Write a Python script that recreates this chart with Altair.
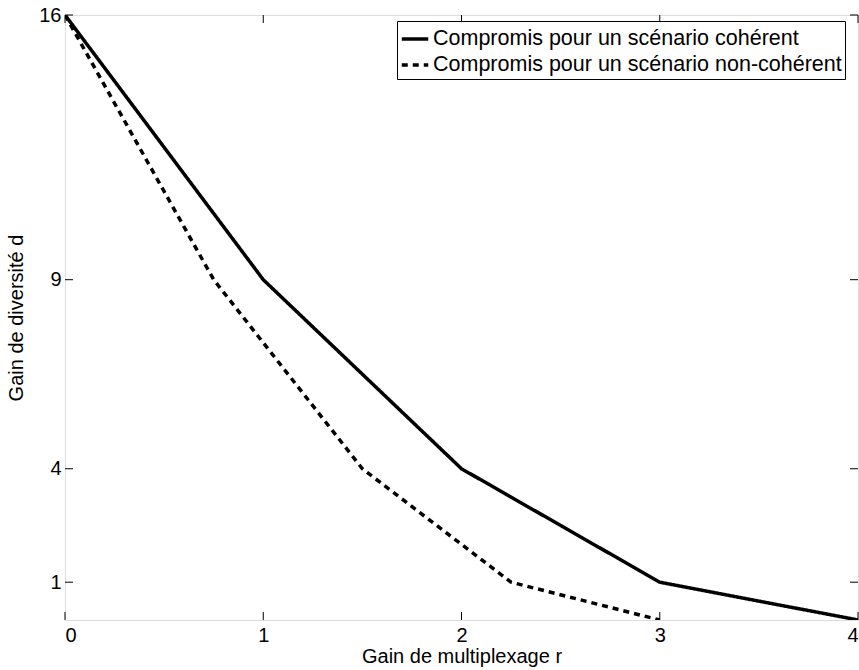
import altair as alt
import pandas as pd

# Data
r_coherent = [0, 1, 2, 3, 4]
d_coherent = [16, 9, 4, 1, 0]
r_noncoherent = [0, 0.75, 1.5, 2.25, 3]
d_noncoherent = [16, 9, 4, 1, 0]
series_names = ["Compromis pour un scénario cohérent",
                "Compromis pour un scénario non-cohérent"]
x_ticks = [0, 1, 2, 3, 4]
y_ticks = [1, 4, 9, 16]

W, H = 793, 605
FONT = "Liberation Sans"

df = pd.concat([
    pd.DataFrame({"r": r_coherent, "d": d_coherent, "s": series_names[0], "o": range(len(r_coherent))}),
    pd.DataFrame({"r": r_noncoherent, "d": d_noncoherent, "s": series_names[1], "o": range(len(r_noncoherent))}),
])

xs = alt.Scale(domain=[0, 4], nice=False)
ys = alt.Scale(domain=[0, 16], nice=False)

lines = alt.Chart(df).mark_line(color="black", strokeWidth=3.5, strokeCap="butt", clip=True).encode(
    x=alt.X("r:Q", scale=xs, title="Gain de multiplexage r",
            axis=alt.Axis(values=x_ticks, ticks=False, domain=False, grid=False,
                          labelFontSize=20, labelFont=FONT, labelColor="black", labelPadding=5,
                          titleFontSize=20, titleFont=FONT, titleFontWeight="normal",
                          titleColor="black", titlePadding=1, format="d")),
    y=alt.Y("d:Q", scale=ys, title="Gain de diversité d",
            axis=alt.Axis(values=y_ticks, ticks=False, domain=False, grid=False,
                          labelFontSize=20, labelFont=FONT, labelColor="black", labelPadding=4,
                          titleFontSize=20, titleFont=FONT, titleFontWeight="normal",
                          titleColor="black", titlePadding=12, format="d")),
    strokeDash=alt.StrokeDash("s:N", scale=alt.Scale(domain=series_names, range=[[1, 0], [6, 5]]),
                              legend=alt.Legend(orient="none", legendX=332, legendY=6, title=None,
                                                labelFontSize=21.5, labelFont=FONT, labelColor="black",
                                                symbolType="stroke", symbolStrokeWidth=3.5,
                                                symbolStrokeColor="black", symbolSize=700,
                                                strokeColor="black", fillColor="white",
                                                padding=3, rowPadding=0, labelOffset=3, labelLimit=0)),
    order="o:Q",
)

xt = pd.DataFrame({"t": x_ticks})
yt = pd.DataFrame({"t": y_ticks})
tick_len = 8
bx = alt.Chart(xt).mark_rule(color="black", strokeWidth=1).encode(
    x=alt.X("t:Q", scale=xs), y=alt.value(H), y2=alt.value(H - tick_len))
tx = alt.Chart(xt).mark_rule(color="black", strokeWidth=1).encode(
    x=alt.X("t:Q", scale=xs), y=alt.value(0), y2=alt.value(tick_len))
ly = alt.Chart(yt).mark_rule(color="black", strokeWidth=1).encode(
    y=alt.Y("t:Q", scale=ys), x=alt.value(0), x2=alt.value(tick_len))
ry = alt.Chart(yt).mark_rule(color="black", strokeWidth=1).encode(
    y=alt.Y("t:Q", scale=ys), x=alt.value(W), x2=alt.value(W - tick_len))

chart = alt.layer(bx, tx, ly, ry, lines).properties(
    width=W, height=H,
    autosize=alt.AutoSizeParams(type="none"),
    padding={"left": 65, "top": 15, "right": 1, "bottom": 50},
).configure_view(stroke="black", strokeWidth=1).configure(background="white")

chart.save("out.html", embed_options={"renderer": "svg", "actions": False})
